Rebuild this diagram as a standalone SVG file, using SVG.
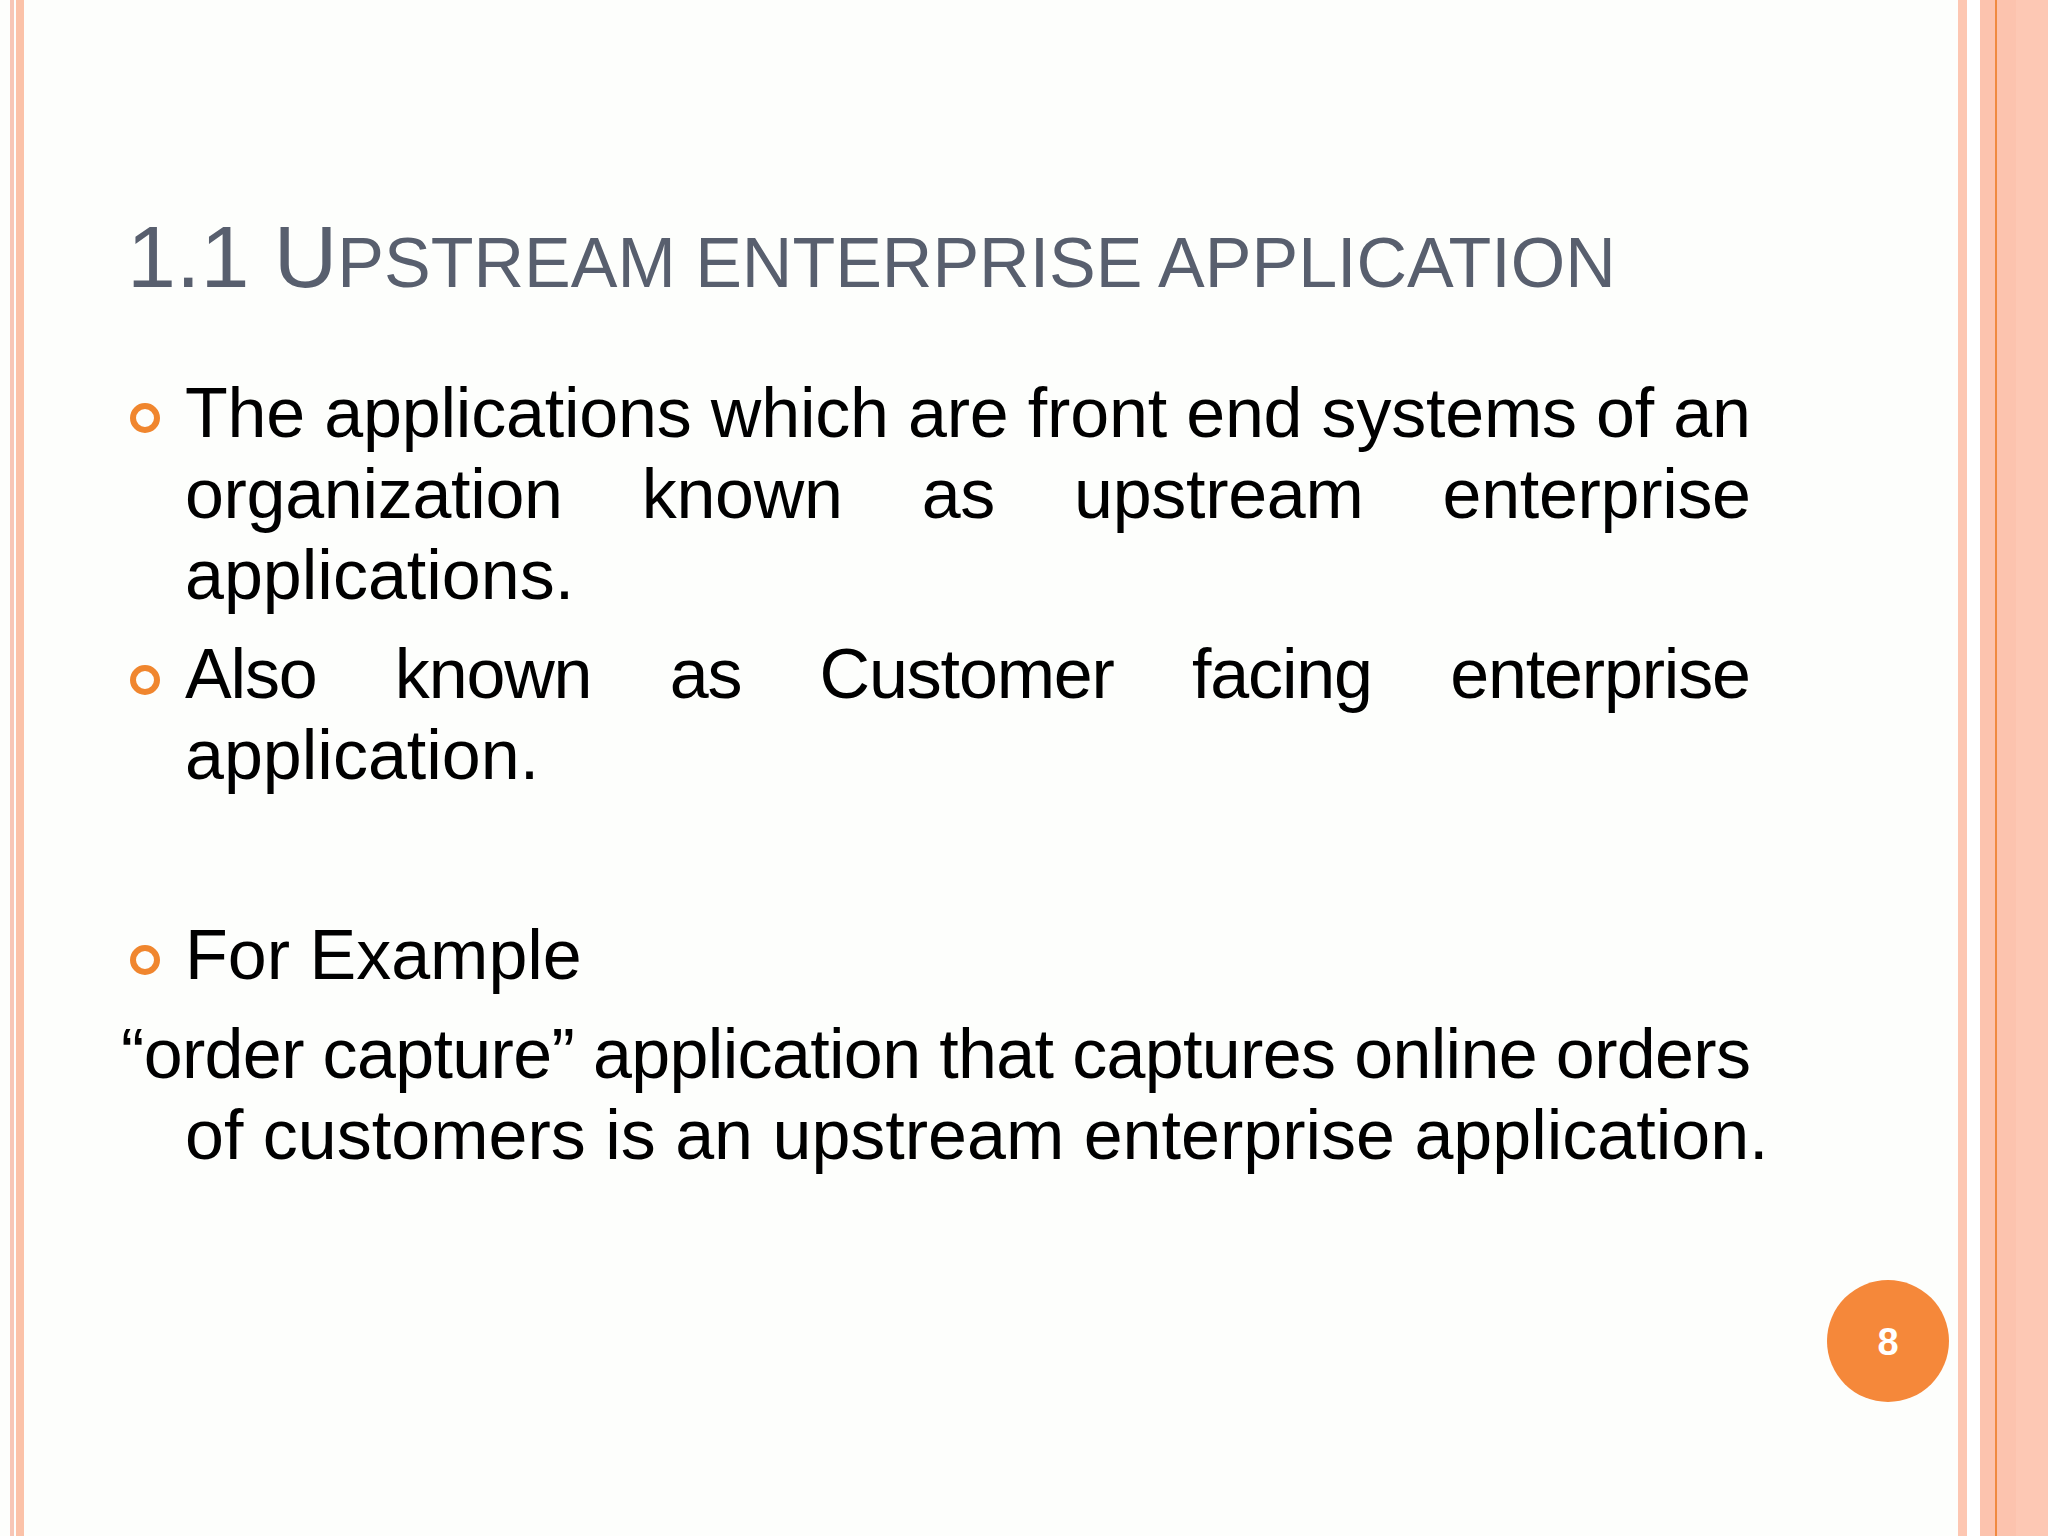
<svg xmlns="http://www.w3.org/2000/svg" width="2048" height="1536" viewBox="0 0 2048 1536">
<style>
.b{font-family:"Liberation Sans",Arial,sans-serif;font-size:70px;fill:#000}
.t{font-family:"Liberation Sans",Arial,sans-serif;fill:#585f6e}
.bul{fill:none;stroke:#f0862e;stroke-width:6}
</style>
<rect width="2048" height="1536" fill="#fdfefc"/>
<g id="borders">
<rect x="10" y="0" width="4" height="1536" fill="#f7c6b6"/>
<rect x="16" y="0" width="8" height="1536" fill="#fbc2a8"/>
<rect x="1958" y="0" width="9" height="1536" fill="#fdc7b2"/>
<rect x="1967" y="0" width="13" height="1536" fill="#ffffff"/>
<rect x="1980" y="0" width="68" height="1536" fill="#fdc8b4"/>
<rect x="1980" y="0" width="36" height="1536" fill="#fcc3ae"/>
<rect x="1995" y="0" width="2" height="1536" fill="#f08a40"/>
</g>
<g id="title">
<text class="t" x="127" y="287"><tspan font-size="88">1.1 U</tspan><tspan font-size="70">PSTREAM ENTERPRISE APPLICATION</tspan></text>
</g>
<g id="bullets">
<circle class="bul" cx="145" cy="418" r="12"/>
<circle class="bul" cx="145" cy="680" r="12"/>
<circle class="bul" cx="145" cy="960" r="12"/>
</g>
<g id="body">
<text class="b" x="185" y="437" textLength="1566" lengthAdjust="spacing">The applications which are front end systems of an</text>
<text class="b" x="185" y="518" textLength="1566" lengthAdjust="spacing" word-spacing="60">organization known as upstream enterprise</text>
<text class="b" x="185" y="599">applications.</text>
<text class="b" x="185" y="698" textLength="1566" lengthAdjust="spacing" word-spacing="60">Also known as Customer facing enterprise</text>
<text class="b" x="185" y="779">application.</text>
<text class="b" x="185" y="979">For Example</text>
<text class="b" x="121" y="1078" textLength="1630" lengthAdjust="spacing">“order capture” application that captures online orders</text>
<text class="b" x="185" y="1159">of customers is an upstream enterprise application.</text>
</g>
<g id="page">
<circle cx="1888" cy="1341" r="61" fill="#f5883a"/>
<text x="1888" y="1355" text-anchor="middle" font-family="Liberation Sans,Arial,sans-serif" font-weight="bold" font-size="38" fill="#fff">8</text>
</g>
</svg>
